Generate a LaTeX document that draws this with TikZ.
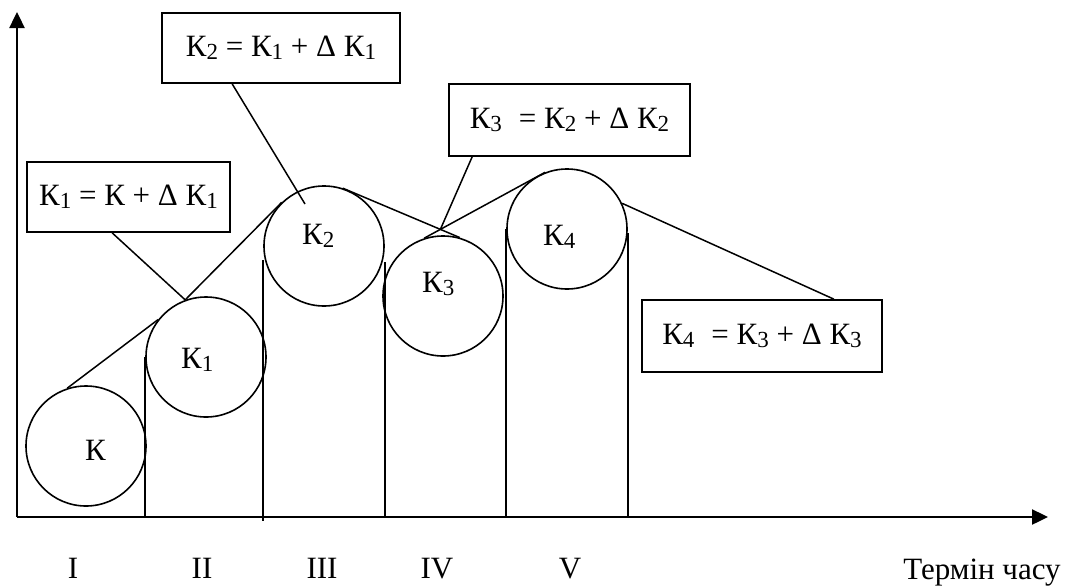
\documentclass[tikz,border=0pt]{standalone}
\usepackage{fontspec}
\setmainfont{Liberation Serif}
\usetikzlibrary{arrows.meta,calc}

% lowered index digit
\newcommand{\subdig}[1]{\raisebox{-0.1em}{\fontsize{23}{23}\selectfont #1}}

\begin{document}
\begin{tikzpicture}[x=1pt,y=-1pt,
  every node/.style={font=\fontsize{31}{36}\selectfont},
  ring/.style={draw, circle, minimum size=120pt, inner sep=0pt, line width=1.6pt},
  formula/.style={draw, rectangle, line width=1.7pt, inner sep=0pt},
  thin/.style={line width=1.5pt},
  axis/.style={line width=2.4pt, -{Triangle[length=16pt,width=15pt]}}]

\useasboundingbox (0,0) rectangle (1074,587);

% axes
\coordinate (O) at (17,517);
\coordinate (ytop) at (17,12);
\coordinate (xend) at (1048,517);
\draw[axis] (O) -- (ytop);
\draw[axis] (O) -- (xend);

% capital circles
\node[ring] (K)  at (86,446)  {};
\node[ring] (K1) at (206,357) {};
\node[ring] (K2) at (324,246) {};
\node[ring] (K3) at (443,296) {};
\node[ring] (K4) at (567,229) {};

\node[anchor=base west, inner sep=0pt] (tK)  at (85,460)  {К};
\node[anchor=base west, inner sep=0pt] (tK1) at (181,368) {К\subdig{1}};
\node[anchor=base west, inner sep=0pt] (tK2) at (302,244) {К\subdig{2}};
\node[anchor=base west, inner sep=0pt] (tK3) at (422,292) {К\subdig{3}};
\node[anchor=base west, inner sep=0pt] (tK4) at (543,245) {К\subdig{4}};

% period boundaries
\draw[thin] (K1.west) -- (K1.west |- O);
\draw[thin] ($(K2.west)+(0,14)$) -- ($(K2.west |- O)+(0,4)$);
\draw[thin] ($(K2.east)+(0,16)$) -- (K2.east |- O);
\draw[thin] (K4.west) -- (K4.west |- O);
\draw[thin] ($(K4.east)+(0,4)$) -- (K4.east |- O);

% formula boxes
\node[formula, minimum width=203pt, minimum height=70pt] (K1box) at (128.5,197)
  {К\subdig{1} = К + Δ К\subdig{1}};
\node[formula, minimum width=238pt, minimum height=70pt] (K2box) at (281,48)
  {К\subdig{2} = К\subdig{1} + Δ К\subdig{1}};
\node[formula, minimum width=241pt, minimum height=72pt] (K3box) at (569.5,120)
  {К\subdig{3}\hspace{0.3em} = К\subdig{2} + Δ К\subdig{2}};
\node[formula, minimum width=240pt, minimum height=72pt] (K4box) at (762,336)
  {К\subdig{4}\hspace{0.3em} = К\subdig{3} + Δ К\subdig{3}};

% growth line over the circles
\draw[thin] (K.108) -- (K1.142);
\draw[thin] (K1.110) -- (K2.134);
\draw[thin] (K2.72) -- (K3.74);
\draw[thin] (K3.108) -- (K4.111);
\draw[thin] (K4.25) -- ($(K4box.north east)+(-49,0)$);

% callouts
\coordinate (cross) at (intersection of K2.72--K3.74 and K3.108--K4.111);
\draw[thin] ($(K1box.south west)+(86,0)$) -- (K1.110);
\draw[thin] ($(K2box.south west)+(71,0)$) -- ($(K2.center)+(-19,-42)$);
\draw[thin] ($(K3box.south west)+(24,0)$) -- (cross);

% period labels
\node[anchor=base] (p1) at (73,578)  {I};
\node[anchor=base] (p2) at (202,578) {II};
\node[anchor=base] (p3) at (322,578) {III};
\node[anchor=base] (p4) at (437,578) {IV};
\node[anchor=base] (p5) at (570,578) {V};
\node[anchor=base] (tlabel) at (982,579) {Термін часу};

\end{tikzpicture}
\end{document}
